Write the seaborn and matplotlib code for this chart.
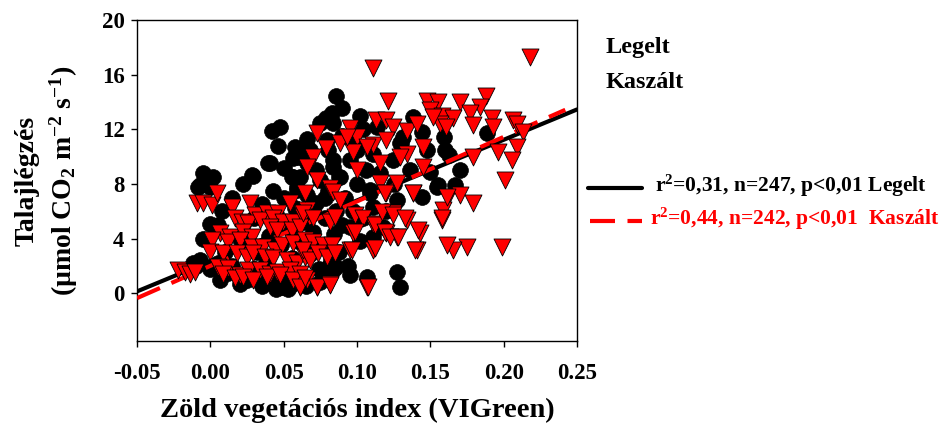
import numpy as np
import pandas as pd
import seaborn as sns
import matplotlib.pyplot as plt
from matplotlib.lines import Line2D

# Legelt (grazed) - black circles
legelt_x = [0.086, 0.0896, 0.079, 0.083, 0.102, 0.042, 0.0475, 0.0463, 0.0577, 0.068,
            0.0395, 0.0566, 0.029, -0.0048, 0.002, -0.007, 0.0, 0.043, 0.0555, 0.059,
            0.0837, 0.088, 0.138, 0.144, 0.1316, 0.159, 0.160, 0.163, 0.1884, 0.170,
            0.150, 0.155, 0.167, 0.144, 0.127, 0.109, 0.111, 0.095, 0.111, 0.118,
            0.0, -0.005, -0.0116, -0.007, 0.0066, 0.038, 0.0475, 0.049, 0.086, 0.095,
            0.1066, 0.127, 0.129, 0.0747, 0.0838, 0.0656, 0.0793, 0.0838, 0.0884, 0.0747,
            0.1134, 0.1247, 0.1293, 0.1475, 0.1088, 0.1543, 0.136, 0.095, 0.0611, 0.0656,
            0.111, 0.0407, 0.0282, -0.0082, -0.0025, 0.0566, 0.0589, 0.0657, 0.0793, 0.0838,
            0.01, 0.015, 0.02, 0.025, 0.03, 0.032, 0.035, 0.038, 0.04, 0.042,
            0.045, 0.048, 0.05, 0.052, 0.054, 0.056, 0.058, 0.06, 0.062, 0.064,
            0.066, 0.068, 0.07, 0.072, 0.074, 0.076, 0.078, 0.08, 0.082, 0.084,
            0.086, 0.088, 0.09, 0.092, 0.094, 0.097, 0.1, 0.102, 0.104, 0.106,
            0.05, 0.06, 0.072, 0.078, 0.08, 0.09, 0.098, 0.104, 0.116, 0.12,
            0.125, 0.13, 0.1, 0.045, 0.055, 0.035, 0.03, 0.02, 0.012, 0.005,
            0.0, -0.01, 0.005, 0.008, 0.015, 0.022, 0.06, 0.065, 0.075, 0.053]
legelt_y = [14.4, 13.55, 12.8, 13.2, 13.0, 11.9, 12.2, 10.8, 10.7, 10.5,
            9.5, 9.9, 8.6, 8.8, 8.5, 7.9, 7.8, 7.5, 8.5, 7.8,
            9.25, 8.5, 12.9, 11.8, 11.45, 11.45, 10.5, 10.1, 11.7, 9.0,
            8.9, 7.9, 7.9, 7.05, 6.8, 7.3, 6.3, 4.85, 4.1, 4.85,
            5.1, 4.0, 2.2, 2.4, 0.95, 1.2, 0.46, 0.46, 1.9, 1.3,
            1.2, 1.55, 0.46, 12.43, 12.43, 11.3, 11.2, 9.74, 8.5, 8.27,
            12.2, 9.74, 10.96, 10.47, 7.54, 7.8, 9.0, 9.74, 8.5, 9.5,
            10.2, 9.5, 8.64, 7.79, 8.03, 8.52, 7.54, 10.72, 1.81, 1.69,
            3.0, 2.0, 4.0, 1.0, 5.5, 3.0, 6.5, 2.2, 4.2, 0.8,
            5.8, 3.5, 7.0, 1.5, 4.8, 2.6, 6.2, 3.8, 1.0, 5.2,
            7.2, 2.9, 4.5, 6.6, 1.8, 3.5, 5.5, 7.5, 2.4, 4.3,
            6.0, 3.0, 5.0, 7.0, 2.0, 6.0, 8.0, 3.8, 5.5, 9.0,
            9.2, 10.0, 9.0, 7.0, 10.5, 11.5, 11.0, 12.0, 8.8, 6.0,
            8.0, 11.0, 10.5, 0.3, 0.6, 0.5, 1.8, 0.7, 1.5, 2.2,
            1.8, 2.0, 5.0, 6.0, 7.0, 8.0, 0.9, 0.5, 0.8, 0.3]

# Kaszált (mown) - red triangles
kaszalt_x = [0.111, 0.218, 0.121, 0.1475, 0.155, 0.170, 0.188, 0.184, 0.150, 0.1577,
             0.1656, 0.177, 0.179, 0.1918, 0.193, 0.2065, 0.2088, 0.2134, 0.1565, 0.161,
             0.152, 0.113, 0.120, 0.1247, 0.1338, 0.1406, 0.145, 0.1338, 0.129, 0.1156,
             0.111, 0.120, 0.0997, 0.1065, 0.095, 0.0975, 0.0884, 0.093, 0.079, 0.0725,
             0.070, 0.0656, 0.0725, 0.0815, 0.0997, 0.1156, 0.120, 0.127, 0.138, 0.145,
             0.179, 0.1963, 0.2088, 0.2054, 0.201, 0.162, 0.170, 0.179, 0.1588, 0.1577,
             0.143, 0.1747, 0.1656, 0.1986, 0.1406, 0.1338, 0.1247, 0.127, 0.120, 0.111,
             0.0975, 0.095, 0.111, 0.1065, 0.0815, 0.0725, 0.061, 0.0585,
             -0.0093, -0.0048, 0.001, 0.0043, 0.0146, 0.0271, 0.0305, 0.0384, 0.0464, 0.0543,
             0.0623, 0.0657, 0.0168, 0.0214, 0.026, 0.0339, 0.043, 0.0498, 0.0566, 0.0634,
             0.0066, 0.0134, 0.0225, 0.0282, 0.0407, 0.0452, 0.0555, 0.0612, 0.001, 0.0123,
             0.0202, 0.0282, 0.0362, 0.0441, 0.0487, 0.0566, 0.0634, -0.0002, 0.0089, 0.018,
             0.0248, 0.0293, 0.0373, 0.043, 0.0521, 0.0589, 0.0646, -0.0218, -0.0173, -0.0138,
             -0.0104, 0.0055, 0.0123, 0.0202, 0.026, 0.0339, 0.0407, 0.0452, 0.0543, 0.0612,
             0.0089, 0.0168, 0.0225, 0.0293, 0.0384, 0.0475, 0.0566, 0.0612, 0.0657,
             0.0645, 0.0838, 0.0884, 0.1191, 0.1384, 0.1611, 0.0634, 0.0702, 0.0816, 0.085,
             0.0986, 0.1043, 0.1122, 0.1168, 0.1247, 0.1327, 0.1418, 0.1577, 0.0645, 0.0702,
             0.077, 0.0827, 0.0963, 0.0986, 0.1122, 0.1191, 0.1225, 0.1281, 0.1395, 0.1611,
             0.0634, 0.0679, 0.0736, 0.0793, 0.085, 0.0645, 0.0725, 0.0816, 0.1077]
kaszalt_y = [16.45, 17.3, 14.1, 14.1, 14.0, 14.0, 14.4, 13.65, 13.4, 13.0,
             12.8, 13.16, 12.3, 12.8, 12.2, 12.7, 12.4, 11.8, 12.4, 12.2,
             12.9, 12.7, 12.7, 12.2, 11.9, 12.4, 10.7, 10.2, 10.0, 9.5,
             10.84, 11.2, 11.45, 10.7, 12.06, 10.35, 10.96, 11.45, 10.6, 11.7,
             10.0, 9.26, 8.28, 7.67, 9.0, 8.03, 7.3, 8.03, 7.3, 9.26,
             10.0, 10.35, 10.7, 9.74, 8.28, 7.06, 7.18, 6.57, 6.08, 5.35,
             4.4, 3.4, 3.15, 3.4, 3.15, 5.35, 5.84, 4.13, 4.37, 5.1,
             4.37, 3.15, 3.15, 0.46, 0.7, 0.46, 0.46, 0.95,
             6.57, 6.57, 6.45, 7.31, 6.33, 6.57, 5.72, 5.84, 5.84, 6.57,
             5.84, 6.08, 5.47, 5.23, 5.11, 5.35, 5.47, 5.23, 5.23, 5.6,
             4.37, 4.13, 4.5, 4.13, 4.86, 4.62, 4.62, 4.86, 3.89, 3.76,
             3.89, 3.4, 3.4, 3.15, 3.52, 3.64, 3.15, 3.03, 2.91, 2.91,
             2.67, 2.91, 2.67, 2.54, 2.42, 2.18, 2.67, 1.69, 1.57, 1.44,
             1.57, 1.93, 1.81, 1.32, 1.69, 1.69, 1.44, 1.57, 1.69, 1.44,
             1.44, 1.08, 1.2, 0.96, 1.2, 1.32, 0.96, 0.47, 0.96,
             7.31, 7.43, 6.82, 7.31, 7.31, 7.06, 5.84, 5.47, 5.23, 5.6,
             5.72, 5.47, 4.99, 5.96, 5.72, 5.47, 4.62, 5.47, 3.89, 3.76,
             3.52, 3.52, 3.15, 4.5, 3.28, 4.5, 4.13, 4.13, 3.15, 3.52,
             3.15, 2.42, 2.91, 2.67, 2.91, 1.08, 0.47, 0.59, 0.47]

# regression lines (intercept, slope) and x ranges
legelt_fit = (2.35, 44.4)
kaszalt_fit = (2.0, 47.2)
legelt_range = [-0.05, 0.25]
kaszalt_range = [-0.05, 0.242]

sns.set_style('ticks')
plt.rcParams['font.family'] = ['Liberation Serif', 'DejaVu Serif']
plt.rcParams['font.weight'] = 'bold'
plt.rcParams['text.color'] = 'black'
plt.rcParams['axes.labelcolor'] = 'black'
plt.rcParams['xtick.color'] = 'black'
plt.rcParams['ytick.color'] = 'black'
plt.rcParams['mathtext.fontset'] = 'custom'
plt.rcParams['mathtext.rm'] = 'Liberation Serif:bold'
plt.rcParams['mathtext.it'] = 'Liberation Serif:bold'
plt.rcParams['mathtext.bf'] = 'Liberation Serif:bold'

df_l = pd.DataFrame({'x': legelt_x, 'y': legelt_y})
df_k = pd.DataFrame({'x': kaszalt_x, 'y': kaszalt_y})

fig = plt.figure(figsize=(9.45, 4.28), dpi=100)
ax = fig.add_axes([0.145, 0.2033, 0.4656, 0.75])

sns.scatterplot(data=df_l, x='x', y='y', ax=ax, color='black', marker='o',
                s=130, edgecolor='black', linewidth=0.5, zorder=2)

lx = np.array(legelt_range)
kx = np.array(kaszalt_range)
ax.plot(lx, legelt_fit[0] + legelt_fit[1] * lx, color='black', lw=3, zorder=3)
ax.plot(kx, kaszalt_fit[0] + kaszalt_fit[1] * kx, color='red', lw=3,
        dashes=(6, 3), zorder=3)

sns.scatterplot(data=df_k, x='x', y='y', ax=ax, color='red', marker='v',
                s=150, edgecolor='black', linewidth=0.6, zorder=4)

ax.set_xlim(-0.05, 0.25)
ax.set_ylim(-3.5, 20)
ax.set_xticks([-0.05, 0.0, 0.05, 0.10, 0.15, 0.20, 0.25])
ax.set_xticklabels(['-0.05', '0.00', '0.05', '0.10', '0.15', '0.20', '0.25'])
ax.set_yticks([0, 4, 8, 12, 16, 20])
ax.tick_params(axis='both', direction='out', length=4, width=1, labelsize=16.5,
               colors='black')
ax.tick_params(axis='x', pad=12)
ax.tick_params(axis='y', pad=5)
for lab in ax.get_xticklabels() + ax.get_yticklabels():
    lab.set_fontweight('bold')
for sp in ax.spines.values():
    sp.set_linewidth(1)
    sp.set_color('black')
    sp.set_visible(True)

ax.set_xlabel('Zöld vegetációs index (VIGreen)', fontsize=20.5, fontweight='bold',
              color='black')
ax.xaxis.set_label_coords(0.5, -0.178)
ax.set_ylabel('Talajlégzés\n(µmol CO$_2$ m$^{-2}$ s$^{-1}$)', fontsize=20,
              fontweight='bold', linespacing=1.3, color='black')
ax.yaxis.set_label_coords(-0.13, 0.5)

fig.text(0.641, 0.888, 'Legelt', fontsize=17.5, fontweight='bold', va='center',
         color='black')
fig.text(0.641, 0.808, 'Kaszált', fontsize=17.5, fontweight='bold', va='center',
         color='black')

fig.add_artist(Line2D([0.622, 0.679], [0.5607, 0.5607], color='black', lw=3,
                      transform=fig.transFigure))
fig.add_artist(Line2D([0.624, 0.679], [0.4836, 0.4836], color='red', lw=3,
                      dashes=(6, 3), transform=fig.transFigure))
fig.text(0.693, 0.5654, 'r$^{2}$=0,31, n=247, p<0,01 Legelt', fontsize=15.5,
         fontweight='bold', va='center', color='black')
fig.text(0.688, 0.4883, 'r$^{2}$=0,44, n=242, p<0,01  Kaszált', fontsize=15.5,
         fontweight='bold', va='center', color='red')

fig.savefig('out.png', dpi=100)
